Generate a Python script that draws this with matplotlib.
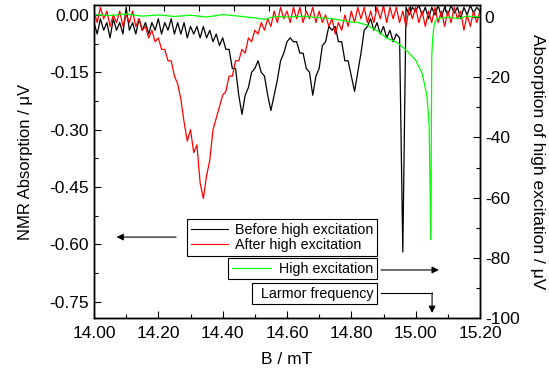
import matplotlib
matplotlib.use("Agg")
import matplotlib.pyplot as plt
import numpy as np
from matplotlib.lines import Line2D
from matplotlib.ticker import MultipleLocator, FormatStrFormatter, FuncFormatter

plt.rcParams["font.family"] = ["Liberation Sans", "DejaVu Sans"]
plt.rcParams["axes.unicode_minus"] = False

# field grid for the two NMR traces (0.01 mT steps, 14.00 .. 15.20)
b_field = np.round(np.linspace(14.0, 15.2, 121), 2)

before_high = [
    -0.02, -0.05, -0.01, -0.04, -0.02, -0.06, -0.01, -0.04, -0.02, -0.05,
    0.02, -0.04, -0.02, -0.05, -0.01, -0.04, -0.02, -0.05, -0.02, -0.04,
    -0.01, -0.05, -0.02, -0.04, -0.01, -0.05, -0.02, -0.05, -0.02, -0.06,
    -0.03, -0.05, -0.03, -0.06, -0.03, -0.06, -0.04, -0.07, -0.05, -0.08,
    -0.06, -0.09, -0.09, -0.14, -0.14, -0.21, -0.26, -0.21, -0.19, -0.15,
    -0.14, -0.12, -0.15, -0.16, -0.21, -0.25, -0.21, -0.17, -0.12, -0.10,
    -0.07, -0.06, -0.07, -0.07, -0.10, -0.10, -0.14, -0.15, -0.21, -0.16,
    -0.14, -0.08, -0.07, -0.03, -0.04, -0.03, -0.07, -0.07, -0.12, -0.12,
    -0.16, -0.20, -0.15, -0.10, -0.04, -0.03, -0.01, -0.04, -0.02, -0.05,
    -0.03, -0.06, -0.04, -0.07, -0.05, -0.06, -0.62, 0.02, 0.00, 0.02,
    0.01, 0.025, 0.00, 0.02, -0.01, 0.02, 0.00, 0.025, -0.005, 0.02,
    0.00, 0.025, 0.005, 0.02, -0.01, 0.02, 0.00, 0.025, 0.005, 0.02,
    0.01,
]

after_high = [
    0.01, -0.02, 0.02, -0.01, 0.01, -0.03, 0.00, -0.02, 0.01, -0.03,
    0.00, -0.02, 0.01, -0.03, -0.01, -0.04, -0.03, -0.06, -0.04, -0.07,
    -0.06, -0.09, -0.09, -0.12, -0.12, -0.16, -0.18, -0.22, -0.28, -0.33,
    -0.30, -0.36, -0.34, -0.44, -0.48, -0.42, -0.38, -0.30, -0.27, -0.24,
    -0.21, -0.20, -0.16, -0.16, -0.12, -0.12, -0.09, -0.10, -0.06, -0.07,
    -0.04, -0.05, -0.02, -0.04, -0.01, -0.03, 0.01, -0.02, 0.02, -0.01,
    0.01, -0.02, 0.02, -0.01, 0.02, -0.02, 0.01, -0.01, 0.02, -0.02,
    0.01, -0.02, 0.00, -0.03, -0.01, -0.05, -0.02, -0.04, 0.00, -0.03,
    0.01, -0.02, 0.02, -0.01, 0.02, -0.02, 0.01, -0.02, 0.02, -0.01,
    0.025, -0.02, 0.02, -0.01, 0.02, -0.02, 0.01, -0.03, 0.02, -0.01,
    0.02, -0.02, 0.01, -0.03, 0.01, -0.02, 0.02, -0.02, 0.01, -0.03,
    0.01, -0.02, 0.02, -0.01, 0.01, -0.04, 0.00, -0.03, 0.01, -0.02,
    0.01,
]

# high excitation trace (right axis, uV)
b_green = [14.00, 14.05, 14.10, 14.15, 14.20, 14.25, 14.30, 14.35, 14.40, 14.45,
           14.50, 14.53, 14.56, 14.60, 14.65, 14.70, 14.73, 14.76, 14.79, 14.82,
           14.85, 14.88, 14.91, 14.94, 14.96, 14.98, 15.00, 15.02, 15.035, 15.042,
           15.047, 15.050, 15.053, 15.058, 15.065, 15.08, 15.10, 15.13, 15.16, 15.20]
high_exc = [0.8, 0.5, 1.0, 0.3, 0.7, 0.2, 0.6, 0.0, 0.8, 0.3,
            -0.3, -0.8, 0.2, 0.0, 0.3, -0.2, -0.4, -0.9, -1.5, -1.8,
            -2.7, -4.5, -7.0, -8.3, -10.0, -12.0, -14.3, -18.7, -26.0, -36.0,
            -74.0, -13.0, -7.0, -2.0, -0.8, -0.3, 0.0, -0.5, 0.3, 0.0]

fig = plt.figure(figsize=(5.49, 3.75), dpi=100)
W, H = 549, 375
ax = fig.add_axes([94 / W, 57 / H, 386 / W, 313 / H])
ax2 = ax.twinx()

ax.plot(b_field, before_high, color="black", lw=0.9)
ax.plot(b_field, after_high, color="red", lw=0.9)
ax2.plot(b_green, high_exc, color="#00ff00", lw=0.9)

ax.set_xlim(14.0, 15.2)
ax.set_ylim(-0.7926, 0.026)
ax2.set_ylim(-100, 4)

ax.xaxis.set_major_locator(MultipleLocator(0.2))
ax.xaxis.set_minor_locator(MultipleLocator(0.1))
ax.xaxis.set_major_formatter(FormatStrFormatter("%.2f"))
ax.yaxis.set_major_locator(MultipleLocator(0.15))
ax.yaxis.set_minor_locator(MultipleLocator(0.075))
ax.yaxis.set_major_formatter(FuncFormatter(lambda v, p: f"{0.0 if abs(v) < 1e-9 else v:.2f}"))
ax2.yaxis.set_major_locator(MultipleLocator(20))
ax2.yaxis.set_minor_locator(MultipleLocator(10))

for a in (ax, ax2):
    a.tick_params(which="both", direction="in", width=0.8, labelsize=12.5)
    a.tick_params(which="major", length=5)
    a.tick_params(which="minor", length=3)
    for s in a.spines.values():
        s.set_linewidth(1.0)
ax.tick_params(axis="x", top=False, pad=6)
ax.tick_params(axis="y", right=False)

# top axis ticks (no labels)
top = ax.twiny()
top.set_xlim(0, 11)
top.set_xticks(range(12))
top.tick_params(direction="in", length=4, width=0.8, labeltop=False)

ax.set_xlabel("B / mT", fontsize=12.5, labelpad=8)
ax.set_ylabel("NMR Absorption / \u03bcV", fontsize=12, labelpad=12)
ax2.set_ylabel("Absorption of high excitation / \u03bcV", fontsize=12.5,
               rotation=270, labelpad=18)

leg_kw = dict(fontsize=10.3, frameon=True, fancybox=False, edgecolor="black",
              framealpha=1, borderpad=0.25, labelspacing=0.1,
              borderaxespad=0, loc="upper right", bbox_transform=fig.transFigure)

leg1 = top.legend(handles=[Line2D([], [], color="black", lw=0.8),
                           Line2D([], [], color="red", lw=0.8)],
                  labels=["Before high excitation", "After high excitation"],
                  bbox_to_anchor=(377 / W, 1 - 219 / H), handlelength=2.6,
                  handletextpad=0.5, **leg_kw)
leg1.get_frame().set_linewidth(0.8)
top.add_artist(leg1)

leg2 = top.legend(handles=[Line2D([], [], color="#00ff00", lw=0.8)],
                  labels=["High excitation"],
                  bbox_to_anchor=(377 / W, 1 - 258 / H), handlelength=2.7,
                  handletextpad=0.6, **leg_kw)
leg2.get_frame().set_linewidth(0.8)
top.add_artist(leg2)

leg3 = top.legend(handles=[Line2D([], [], color="none")],
                  labels=["Larmor frequency"],
                  bbox_to_anchor=(377 / W, 1 - 283 / H), handlelength=0.4,
                  handletextpad=0.0, **leg_kw)
leg3.get_frame().set_linewidth(0.8)

arrow = dict(arrowstyle="-|>", color="black", lw=0.8, mutation_scale=10,
             shrinkA=0, shrinkB=0)
ax.annotate("", xy=(14.07, -0.581), xytext=(14.255, -0.581), arrowprops=arrow)
ax.annotate("", xy=(15.072, -0.667), xytext=(14.892, -0.667), arrowprops=arrow)
ax.plot([14.892, 15.051], [-0.727, -0.727], color="black", lw=0.8)
ax.annotate("", xy=(15.051, -0.7795), xytext=(15.051, -0.727), arrowprops=arrow)

fig.savefig("out.png", dpi=100)
